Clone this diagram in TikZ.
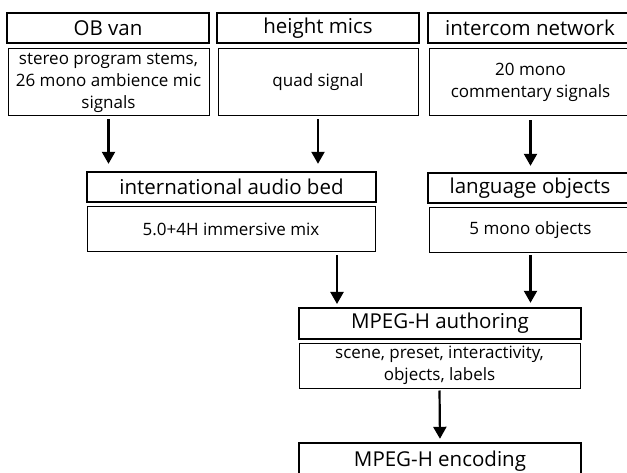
\documentclass[tikz,border=0pt]{standalone}
\usepackage{fontspec}
\setmainfont{Open Sans}
\usetikzlibrary{arrows.meta,calc}
\tikzset{
  head/.style={draw, line width=2.4pt, inner sep=0pt, align=center,
    font=\fontsize{20.5}{24}\selectfont},
  sub/.style={draw, line width=1pt, inner sep=0pt, align=center,
    font=\fontsize{17}{22}\selectfont},
  flow/.style={line width=2.2pt, -{Triangle[width=13pt,length=12pt]}},
}
% boxes given by corners (x, y) in pixel-like units, y downward
\newcommand{\boxat}[5]{%
  \node[#1, minimum width=#4-#2, minimum height=#5-#3] at ({(#2+#4)/2},{(#3+#5)/2})}
\begin{document}
\begin{tikzpicture}[x=1pt,y=-1pt]
\useasboundingbox (0,0) rectangle (627,473);
\clip (0,0) rectangle (627,473);
% sources
\boxat{head}{7}{13}{209}{43} (ob) {OB van};
\boxat{sub}{8}{49}{209}{116} (obsub) {stereo program stems,\\26 mono ambience mic\\signals};
\boxat{head}{217}{13}{419}{43} (hm) {height mics};
\boxat{sub}{218}{49}{418}{116} (hmsub) {quad signal};
\boxat{head}{428}{13}{632}{43} (ic) {intercom network};
\boxat{sub}{429}{49}{632}{116} (icsub) {20 mono\\commentary signals};
% bed and objects
\boxat{head}{87}{172}{376}{202} (bed) {international audio bed};
\boxat{sub}{87}{207}{375}{252} (bedsub) {5.0+4H immersive mix};
\boxat{head}{428}{173}{632}{203} (lang) {language objects};
\boxat{sub}{429}{208}{632}{253} (langsub) {5 mono objects};
% authoring and encoding
\boxat{head}{299}{308}{581}{339} (auth) {MPEG-H authoring};
\boxat{sub}{299}{343}{580}{388} (authsub) {scene, preset, interactivity,\\objects, labels};
\boxat{head}{299}{443}{581}{479} (enc) {MPEG-H encoding};
\coordinate (bedin) at (337,308);
% connectors
\draw[flow, shorten <=3pt, shorten >=7pt] (obsub.south) -- (bed.north -| obsub.south);
\draw[flow, shorten <=3pt, shorten >=7pt] (hmsub.south) -- (bed.north -| hmsub.south);
\draw[flow, shorten <=4pt, shorten >=6pt] (icsub.south) -- (lang.north -| icsub.south);
\draw[flow, shorten <=3pt, shorten >=4pt] (bedsub.south -| bedin) -- (bedin);
\draw[flow, shorten <=2pt, shorten >=4pt] (langsub.south) -- (auth.north -| langsub.south);
\draw[flow, shorten <=2pt, shorten >=3pt] (authsub.south) -- (enc.north);
\end{tikzpicture}
\end{document}
